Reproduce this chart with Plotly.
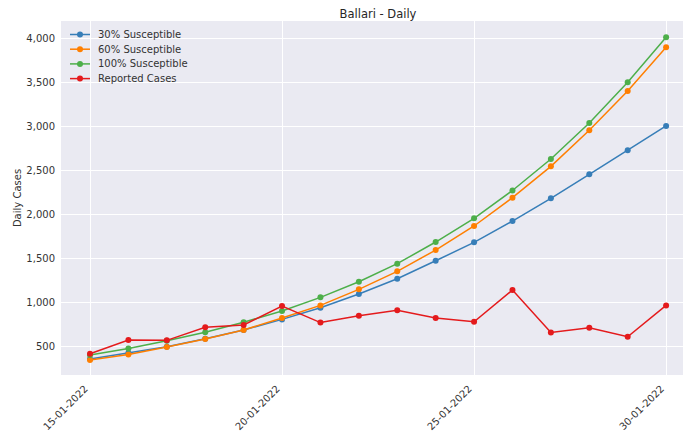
import datetime as dt
import plotly.graph_objects as go

dates = [dt.date(2022, 1, 15) + dt.timedelta(days=i) for i in range(16)]
s30 = [360, 430, 500, 590, 690, 810, 942, 1098, 1271, 1475, 1684, 1926, 2184, 2456, 2729, 3005]
s60 = [349, 412, 497, 588, 690, 825, 969, 1151, 1355, 1597, 1870, 2191, 2547, 2956, 3402, 3898]
s100 = [405, 481, 567, 665, 778, 906, 1060, 1237, 1442, 1688, 1957, 2273, 2630, 3039, 3500, 4011]
reported = [421, 576, 572, 720, 746, 962, 774, 851, 913, 825, 783, 1143, 662, 715, 613, 969]

series = [
    ("30% Susceptible", s30, "#377eb8"),
    ("60% Susceptible", s60, "#ff7f00"),
    ("100% Susceptible", s100, "#4daf4a"),
    ("Reported Cases", reported, "#e41a1c"),
]
tick_dates = [dt.date(2022, 1, d) for d in (15, 20, 25, 30)]

W, H = 683, 432
L, R, T, B = 61, 0, 21, 432 - 375
pw, ph = W - L - R, H - T - B


def px(x):
    return (x - L) / pw


def py(y):
    return (375 - y) / ph


fig = go.Figure()
for name, vals, col in series:
    fig.add_trace(go.Scatter(
        x=dates, y=vals, name=name, mode="lines+markers",
        line=dict(color=col, width=1.5),
        marker=dict(color=col, size=6),
        showlegend=False,
    ))

# manual legend (tighter spacing, like matplotlib)
shapes, annotations = [], []
leg_y = [34.5, 49.2, 63.9, 78.6]
for (name, vals, col), ly in zip(series, leg_y):
    shapes.append(dict(type="line", xref="paper", yref="paper",
                       x0=px(70), x1=px(90), y0=py(ly), y1=py(ly),
                       line=dict(color=col, width=1.5)))
    shapes.append(dict(type="circle", xref="paper", yref="paper",
                       x0=px(77), x1=px(83), y0=py(ly + 3), y1=py(ly - 3),
                       fillcolor=col, line=dict(color=col, width=0)))
    annotations.append(dict(text=name, xref="paper", yref="paper",
                            x=px(96), y=py(ly), xanchor="left", yanchor="middle",
                            showarrow=False, font=dict(size=10, color="#333333")))

start = dt.datetime(2022, 1, 15)
x0 = start - dt.timedelta(days=0.755)
x1 = start + dt.timedelta(days=15.44)

font = "DejaVu Sans"
fig.update_layout(
    width=W, height=H,
    margin=dict(l=L, r=R, t=T, b=B, autoexpand=False),
    paper_bgcolor="white",
    plot_bgcolor="#EAEAF2",
    font=dict(family=font, size=10, color="#333333"),
    title=dict(text="Ballari - Daily", x=378 / W, xanchor="center", y=1 - 14 / H, yanchor="middle",
               font=dict(size=11.5, color="#262626")),
    showlegend=False,
    hovermode=False,
    shapes=shapes,
    annotations=annotations,
    xaxis=dict(
        type="date", range=[x0, x1], automargin=False,
        tickvals=tick_dates, tickformat="%d-%m-%Y", tickangle=-45,
        showgrid=True, gridcolor="white", gridwidth=1,
        zeroline=False, showline=False, ticks="",
        ticklabelshift=-5, ticklabelstandoff=5,
    ),
    yaxis=dict(
        range=[179, 4196], automargin=False,
        tickvals=list(range(500, 4001, 500)), tickformat=",",
        showgrid=True, gridcolor="white", gridwidth=1,
        zeroline=False, showline=False, ticks="", ticklabelstandoff=5,
        title=dict(text="Daily Cases", font=dict(size=10, color="#333333"), standoff=2),
    ),
)

fig.write_html(
    "out.html",
    config={"displayModeBar": False, "staticPlot": True},
    post_script="document.body.style.margin='0';document.body.style.overflow='hidden';",
)
